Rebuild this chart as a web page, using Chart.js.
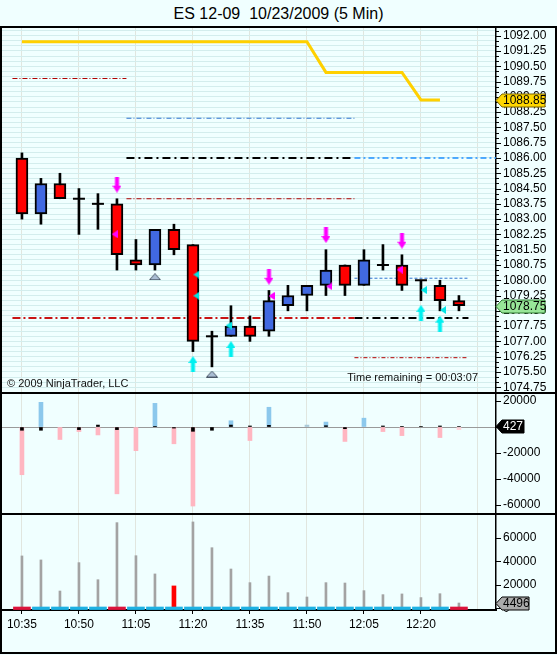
<!DOCTYPE html>
<html>
<head>
<meta charset="utf-8">
<title>ES 12-09 10/23/2009 (5 Min)</title>
<script src="https://cdn.jsdelivr.net/npm/chart.js@4.4.0/dist/chart.umd.min.js"></script>
<style>
  html, body { margin: 0; padding: 0; background: #F0FFFF; }
  #wrap { position: relative; width: 557px; height: 655px; background: #F0FFFF; overflow: hidden;
          font-family: "Liberation Sans", Arial, sans-serif; }
  canvas { position: absolute; left: 0; }
  .rule { position: absolute; background: #000; }
  .txt { position: absolute; font-size: 11px; line-height: 14px; color: #111; white-space: pre; }
</style>
</head>
<body>
<div id="wrap">
  <canvas id="price" width="557" height="364" style="top:28px"></canvas>
  <canvas id="delta" width="557" height="119" style="top:394px"></canvas>
  <canvas id="vol" width="557" height="138" style="top:515px"></canvas>

  <div class="rule" style="left:0;top:26px;width:557px;height:2px"></div>
  <div class="rule" style="left:0;top:26px;width:2px;height:628px"></div>
  <div class="rule" style="left:555px;top:26px;width:2px;height:628px"></div>
  <div class="rule" style="left:0;top:652px;width:557px;height:2px"></div>
  <div class="rule" style="left:0;top:392px;width:557px;height:2px"></div>
  <div class="rule" style="left:0;top:513px;width:557px;height:2px"></div>

  <div class="txt" style="left:0;top:5px;width:557px;text-align:center;font-size:16px;line-height:18px;color:#000">ES 12-09  10/23/2009 (5 Min)</div>
  <div class="txt" style="left:7px;top:376px">© 2009 NinjaTrader, LLC</div>
  <div class="txt" style="right:79px;top:370px">Time remaining = 00:03:07</div>
</div>

<script>
// ---- data ----
var barTimes = ['10:35','10:40','10:45','10:50','10:55','11:00','11:05','11:10','11:15','11:20','11:25','11:30',
                '11:35','11:40','11:45','11:50','11:55','12:00','12:05','12:10','12:15','12:20','12:25','12:30'];
var timeTickBars = [0, 3, 6, 9, 12, 15, 18, 21, 24];

var open  = [1086.00,1083.25,1084.75,1084.00,1083.75,1083.75,1081.00,1080.75,1082.50,1081.75,1077.25,1077.25,
             1077.75,1077.50,1078.75,1079.25,1079.75,1080.75,1079.75,1080.75,1080.75,1080.00,1079.75,1079.00];
var high  = [1086.25,1085.00,1085.25,1084.50,1084.25,1084.00,1082.00,1082.50,1082.75,1081.75,1077.50,1078.75,
             1078.25,1079.50,1079.75,1079.75,1081.50,1080.75,1081.50,1081.75,1081.25,1080.00,1080.00,1079.25];
var low   = [1083.00,1082.75,1084.00,1082.25,1082.50,1080.50,1080.50,1080.50,1081.25,1076.50,1075.75,1077.25,
             1077.00,1077.25,1078.50,1078.50,1079.25,1079.25,1079.75,1080.50,1079.50,1079.00,1078.50,1078.50];
var close = [1083.25,1084.75,1084.00,1084.00,1083.75,1081.25,1080.75,1082.50,1081.50,1077.00,1077.25,1077.75,
             1077.25,1079.00,1079.25,1079.75,1080.50,1079.75,1081.00,1080.75,1079.75,1080.00,1079.00,1078.75];

var trailStop = [1091.7,1091.7,1091.7,1091.7,1091.7,1091.7,1091.7,1091.7,1091.7,1091.7,1091.7,1091.7,
                 1091.7,1091.7,1091.7,1091.7,1090.2,1090.2,1090.2,1090.2,1090.2,1088.85,1088.85,null];

var levelPrice = [1089.9, 1087.95, 1086.0, 1084.0, 1078.15, 1086.0, 1080.1, 1078.15, 1076.2];
var levelFrom  = [-0.5, 5.5, 5.5, 5.5, -0.5, 17.5, 17.5, 17.5, 17.5];
var levelTo    = [5.5, 17.5, 17.5, 17.5, 17.5, 25, 23.5, 23.5, 23.5];

var sellArrowX = [5, 13, 16, 20];
var sellArrowY = [1084.69, 1080.17, 1082.22, 1081.94];
var buyArrowX  = [9, 11, 21, 22];
var buyArrowY  = [1075.89, 1076.63, 1078.40, 1077.87];
var grayTriX   = [7, 10];
var grayTriY   = [1080.17, 1075.40];
var pinkTickX  = [4.88, 13.14, 16.18, 19.88];
var pinkTickY  = [1082.26, 1079.23, 1079.70, 1080.52];
var cyanTickX  = [9.18, 9.18, 10.88, 21.15, 22.16];
var cyanTickY  = [1080.28, 1079.24, 1077.78, 1079.52, 1078.54];

var delta = [-36700, 19000, -9600, -3500, -6100, -51400, -18200, 18200, -12900, -60800, null, 4800,
             -10400, 15200, null, 1500, 3800, -11100, 6800, -3500, -6600, null, -8100, -2000];
var tickDelta = [-2500, -2500, null, -2000, 1500, -2000, null, 500, -800, -3300, -2500, 1500,
                 800, 1300, null, null, 1000, -1300, null, 800, 500, 300, 800, 427];

var volume = [44500, 41100, 14700, 38800, 24300, 72800, 44700, 29200, 19000, 73400, 51500, 33400,
              21800, 27400, 13300, 9600, 21800, 21500, 15000, 11600, 12200, 9100, 12400, 4496];
var volMark = [8];
var volSide = [-1, 1, 1, 1, 1, -1, 1, 1, 1, 1, 1, 1, 1, 1, 1, 1, 1, 1, 1, 1, 1, 1, 1, -1];
var volBand = [-1100, 1100];

var priceLabels = [1092.00,1091.25,1090.50,1089.75,1089.00,1088.25,1087.50,1086.75,1086.00,1085.25,1084.50,1083.75,
                   1083.00,1082.25,1081.50,1080.75,1080.00,1079.25,1078.50,1077.75,1077.00,1076.25,1075.50,1074.75];
var deltaTicks = [20000, 0, -20000, -40000, -60000];
var volTicks = [0, 20000, 40000, 60000];

// ---- drawing ----
Chart.defaults.font.family = '"Liberation Sans", Arial, sans-serif';
Chart.defaults.font.size = 12;
Chart.defaults.color = '#000';

var UP = '#4169E1', DOWN = '#FF0000';
var idx = barTimes.map(function (t, i) { return i; });

function shape(w, h, draw) {
  var c = document.createElement('canvas');
  c.width = w; c.height = h;
  draw(c.getContext('2d'));
  return c;
}
var sellArrow = shape(9, 16, function (g) {
  g.fillStyle = '#FF00FF'; g.beginPath();
  g.moveTo(2.5, 0); g.lineTo(6.5, 0); g.lineTo(6.5, 9); g.lineTo(9, 9); g.lineTo(4.5, 16); g.lineTo(0, 9); g.lineTo(2.5, 9);
  g.closePath(); g.fill();
});
var buyArrow = shape(9, 16, function (g) {
  g.fillStyle = '#00F0F0'; g.beginPath();
  g.moveTo(4.5, 0); g.lineTo(9, 7); g.lineTo(6.5, 7); g.lineTo(6.5, 16); g.lineTo(2.5, 16); g.lineTo(2.5, 7); g.lineTo(0, 7);
  g.closePath(); g.fill();
});
var grayTri = shape(12, 7, function (g) {
  g.fillStyle = '#A9BDD3'; g.strokeStyle = '#4A5868'; g.lineWidth = 1; g.beginPath();
  g.moveTo(6, 0.5); g.lineTo(11.5, 6.5); g.lineTo(0.5, 6.5); g.closePath(); g.fill(); g.stroke();
});
function leftTri(color) {
  return shape(6, 8, function (g) {
    g.fillStyle = color; g.beginPath();
    g.moveTo(0, 4); g.lineTo(6, 0); g.lineTo(6, 8); g.closePath(); g.fill();
  });
}

var axisTicks = {
  id: 'axisTicks',
  afterDraw: function (chart, args, opts) {
    var y = chart.scales.y, ctx = chart.ctx, x0 = chart.chartArea.right;
    ctx.save();
    ctx.strokeStyle = '#000'; ctx.lineWidth = 1;
    [[opts.minor || [], 3], [opts.major || [], 5]].forEach(function (set) {
      set[0].forEach(function (v) {
        var py = Math.round(y.getPixelForValue(v)) + 0.5;
        ctx.beginPath(); ctx.moveTo(x0, py); ctx.lineTo(x0 + set[1], py); ctx.stroke();
      });
    });
    ctx.restore();
  }
};

var tags = {
  id: 'tags',
  afterDraw: function (chart, args, opts) {
    var ctx = chart.ctx, x0 = chart.chartArea.right;
    (opts.items || []).forEach(function (t) {
      var py = Math.round(chart.scales.y.getPixelForValue(t.value)) + 0.5, h = 6.5;
      ctx.save();
      ctx.beginPath();
      ctx.moveTo(x0, py); ctx.lineTo(x0 + 6, py - h); ctx.lineTo(x0 + t.w, py - h);
      ctx.lineTo(x0 + t.w, py + h); ctx.lineTo(x0 + 6, py + h); ctx.closePath();
      ctx.fillStyle = t.fill; ctx.fill();
      ctx.strokeStyle = t.stroke; ctx.lineWidth = 1; ctx.stroke();
      ctx.fillStyle = t.color || '#000';
      ctx.font = '12px "Liberation Sans", Arial, sans-serif';
      ctx.textBaseline = 'middle'; ctx.textAlign = 'left';
      ctx.fillText(t.text, x0 + 7, py + 0.5);
      ctx.restore();
    });
  }
};

function noPad(s) { s.paddingTop = 0; s.paddingBottom = 0; s.paddingLeft = 0; s.paddingRight = 0; }

function xAxis(showLabels) {
  return {
    type: 'linear', min: -1.05, max: 24.95, offset: false,
    afterBuildTicks: function (s) { s.ticks = timeTickBars.map(function (v) { return { value: v }; }); },
    afterFit: function (s) { s.height = showLabels ? 43 : 0; noPad(s); },
    ticks: { display: showLabels, autoSkip: false, maxRotation: 0, padding: 3, color: '#000',
             callback: function (v) { return barTimes[v] || ''; } },
    grid: { color: '#E1E6DF', offset: false, drawTicks: showLabels, tickLength: 4,
            tickColor: function (c) { return c.tick && barTimes[c.tick.value] ? '#000' : 'rgba(0,0,0,0)'; } },
    border: { display: showLabels, color: '#000', width: 2 }
  };
}

function yAxis(min, max, vals, label, gridColor) {
  return {
    type: 'linear', position: 'right', min: min, max: max,
    afterBuildTicks: function (s) { s.ticks = vals.map(function (v) { return { value: v }; }); },
    afterFit: function (s) { s.width = 61; noPad(s); },
    ticks: { autoSkip: false, padding: 7, color: '#000', callback: label },
    grid: { drawTicks: false, color: gridColor },
    border: { display: true, color: '#000', width: 1.5 }
  };
}

function baseOptions(scales, plugins) {
  return {
    responsive: false, animation: false, events: [],
    layout: { autoPadding: false, padding: { left: 2, right: 0, top: 0, bottom: 0 } },
    datasets: { bar: { grouped: false } },
    scales: scales,
    plugins: Object.assign({ legend: { display: false }, tooltip: { enabled: false } }, plugins)
  };
}

function pts(xs, ys) { return xs.map(function (x, i) { return { x: x, y: ys[i] }; }); }
function marker(data, img, order) {
  return { type: 'line', data: data, showLine: false, pointStyle: img, pointRadius: 5, order: order };
}

// price panel
var priceGrid = [];
for (var g = 1074.75; g <= 1092.25; g += 0.25) priceGrid.push(g);

var bodyIdx = idx.filter(function (i) { return open[i] !== close[i]; });
var dojiIdx = idx.filter(function (i) { return open[i] === close[i]; });

var levelLook = [
  { c: '#B00000', w: 1, d: [5, 2, 1, 2] },
  { c: '#2F74D0', w: 1, d: [5, 2, 1, 2] },
  { c: '#000000', w: 2, d: [8, 4, 2, 4] },
  { c: '#B00000', w: 1, d: [5, 2, 1, 2] },
  { c: '#C81414', w: 2, d: [8, 3, 2, 3] },
  { c: '#1E90FF', w: 1.5, d: [6, 3, 2, 3] },
  { c: '#2F74D0', w: 1, d: [3, 2] },
  { c: '#000000', w: 2, d: [8, 4, 2, 4] },
  { c: '#B00000', w: 1, d: [4, 2, 1, 2] }
];

var priceSets = levelPrice.map(function (p, k) {
  return { type: 'line', data: [{ x: levelFrom[k], y: p }, { x: levelTo[k], y: p }],
           borderColor: levelLook[k].c, borderWidth: levelLook[k].w, borderDash: levelLook[k].d,
           pointRadius: 0, order: 6 };
});
priceSets.push(
  { type: 'line', data: pts(idx, trailStop), borderColor: '#FFD000', borderWidth: 3, pointRadius: 0,
    spanGaps: false, tension: 0, order: 5 },
  { type: 'bar', data: idx.map(function (i) { return { x: i, y: [low[i], high[i]] }; }),
    backgroundColor: '#000', barThickness: 2, order: 4 },
  { type: 'bar', data: bodyIdx.map(function (i) { return { x: i, y: [open[i], close[i]] }; }),
    backgroundColor: bodyIdx.map(function (i) { return close[i] > open[i] ? UP : DOWN; }),
    borderColor: '#000', borderWidth: 2, borderSkipped: false, barThickness: 12, order: 3 },
  { type: 'line', data: dojiIdx.map(function (i) { return { x: i, y: close[i] }; }), showLine: false,
    pointStyle: 'line', pointRadius: 6, pointBorderWidth: 2, pointBorderColor: '#000', order: 2 },
  marker(pts(sellArrowX, sellArrowY), sellArrow, 1),
  marker(pts(buyArrowX, buyArrowY), buyArrow, 1),
  marker(pts(grayTriX, grayTriY), grayTri, 1),
  marker(pts(pinkTickX, pinkTickY), leftTri('#FF00FF'), 0),
  marker(pts(cyanTickX, cyanTickY), leftTri('#00E5E5'), 0)
);

new Chart(document.getElementById('price'), {
  type: 'bar',
  data: { datasets: priceSets },
  options: baseOptions({
    x: xAxis(false),
    y: yAxis(1074.517, 1092.378, priceGrid,
             function (v) { return priceLabels.indexOf(v) >= 0 ? v.toFixed(2) : ''; },
             '#D3EDED')
  }, {
    axisTicks: { major: priceLabels, minor: priceGrid },
    tags: { items: [
      { value: trailStop[22], text: trailStop[22].toFixed(2), fill: '#FFD700', stroke: '#7A6400', w: 49 },
      { value: close[23], text: close[23].toFixed(2), fill: '#98E698', stroke: '#2E7D32', w: 49 }
    ] }
  }),
  plugins: [axisTicks, tags]
});

// delta histogram panel
function deltaColor(c) {
  var v = c.raw ? c.raw.y : 0;
  if (v >= 0) return Math.abs(v) <= 2000 ? '#A9C9D8' : '#8CC8EC';
  return Math.abs(v) <= 2000 ? '#FFD3DA' : '#FFB6C1';
}
new Chart(document.getElementById('delta'), {
  type: 'bar',
  data: { datasets: [
    { type: 'bar', data: pts(idx, delta), backgroundColor: deltaColor, barThickness: 4, order: 2 },
    { type: 'bar', data: pts(idx, tickDelta), backgroundColor: '#000', barThickness: 3, order: 1 }
  ] },
  options: baseOptions({
    x: xAxis(false),
    y: yAxis(-66150, 25400, deltaTicks,
             function (v) { return v === 0 ? '' : String(v); },
             function (c) { return c.tick && c.tick.value === 0 ? '#9A9A9A' : 'rgba(0,0,0,0)'; })
  }, {
    axisTicks: { major: deltaTicks },
    tags: { items: [
      { value: tickDelta[23], text: String(tickDelta[23]), fill: '#000', stroke: '#000', color: '#fff', w: 28 }
    ] }
  }),
  plugins: [axisTicks, tags]
});

// volume panel
var plainIdx = idx.filter(function (i) { return volMark.indexOf(i) < 0; });
new Chart(document.getElementById('vol'), {
  type: 'bar',
  data: { datasets: [
    { type: 'bar', data: plainIdx.map(function (i) { return { x: i, y: volume[i] }; }),
      backgroundColor: '#A3A3A3', barThickness: 2, order: 3 },
    { type: 'bar', data: volMark.map(function (i) { return { x: i, y: volume[i] }; }),
      backgroundColor: '#FF0000', barThickness: 4, order: 2 },
    { type: 'bar', data: idx.map(function (i) { return { x: i, y: volBand }; }),
      backgroundColor: idx.map(function (i) { return volSide[i] < 0 ? '#DC143C' : '#1DB1E3'; }),
      barThickness: 17, order: 1 }
  ] },
  options: baseOptions({
    x: xAxis(true),
    y: yAxis(-1450, 79300, volTicks,
             function (v) { return String(v); },
             'rgba(0,0,0,0)')
  }, {
    axisTicks: { major: volTicks },
    tags: { items: [
      { value: volume[23], text: String(volume[23]), fill: '#ABABAB', stroke: '#000', w: 33 }
    ] }
  }),
  plugins: [axisTicks, tags]
});
</script>
</body>
</html>
